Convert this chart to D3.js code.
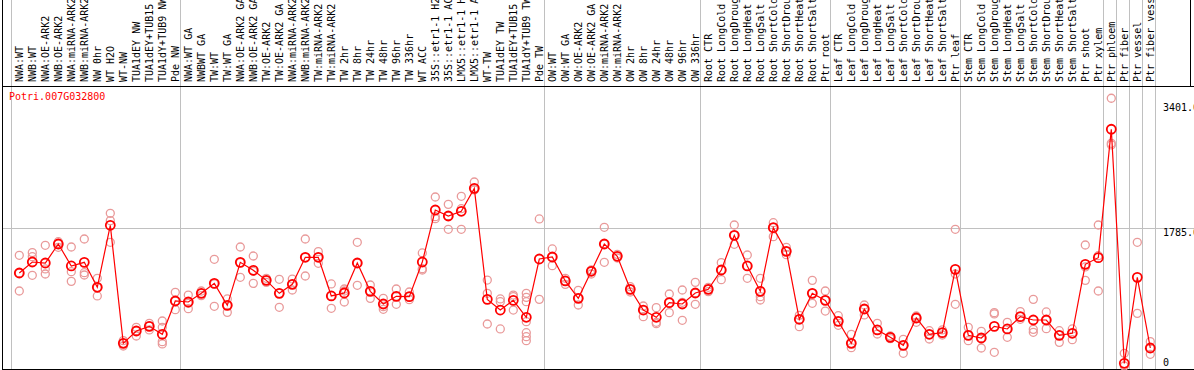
<!DOCTYPE html>
<html>
<head>
<meta charset="utf-8">
<script src="https://cdn.jsdelivr.net/npm/d3@7"></script>
<style>
  body { margin: 0; background: #fff; }
  svg { display: block; }
</style>
</head>
<body>
<div id="chart"></div>
<script>
const W = 1194, H = 370;

const geneName = "Potri.007G032800";

const samples = [
  "NWA:WT", "NWB:WT", "NWA:OE-ARK2", "NWB:OE-ARK2", "NWA:miRNA-ARK2", "NWB:miRNA-ARK2",
  "NW 0hr", "WT H2O", "WT-NW", "TUA1dEY NW", "TUA1dEY+TUB15 NW", "TUA1dY+TUB9 NW", "Pde NW",
  "NWA:WT GA", "NWBWT GA", "TW:WT", "TW:WT GA", "NWA:OE-ARK2 GA", "NWB:OE-ARK2 GA",
  "TW:OE-ARK2", "TW:OE-ARK2 GA", "NWA:miRNA-ARK2", "NWB:miRNA-ARK2", "TW:miRNA-ARK2",
  "TW:miRNA-ARK2", "TW 2hr", "TW 8hr", "TW 24hr", "TW 48hr", "TW 96hr", "TW 336hr",
  "WT ACC", "35S::etr1-1 H2O", "35S::etr1-1 ACC", "LMX5::etr1-1 H2O", "LMX5::etr1-1 ACC",
  "WT-TW", "TUA1dEY TW", "TUA1dEY+TUB15 TW", "TUA1dY+TUB9 TW", "Pde TW",
  "OW:WT", "OW:WT GA", "OW:OE-ARK2", "OW:OE-ARK2 GA", "OW:miRNA-ARK2", "OW:miRNA-ARK2",
  "OW 2hr", "OW 8hr", "OW 24hr", "OW 48hr", "OW 96hr", "OW 336hr",
  "Root CTR", "Root LongCold", "Root LongDrought", "Root LongHeat", "Root LongSalt",
  "Root ShortCold", "Root ShortDrought", "Root ShortHeat", "Root ShortSalt", "Ptr root",
  "Leaf CTR", "Leaf LongCold", "Leaf LongDrought", "Leaf LongHeat", "Leaf LongSalt",
  "Leaf ShortCold", "Leaf ShortDrought", "Leaf ShortHeat", "Leaf ShortSalt", "Ptr leaf",
  "Stem CTR", "Stem LongCold", "Stem LongDrought", "Stem LongHeat", "Stem LongSalt",
  "Stem ShortCold", "Stem ShortDrought", "Stem ShortHeat", "Stem ShortSalt",
  "Ptr shoot", "Ptr xylem", "Ptr phloem", "Ptr fiber", "Ptr vessel", "Ptr fiber vessel"
];

// mean expression per sample
const means = [
  1203, 1345, 1332, 1578, 1294, 1341, 1018, 1820, 293, 453, 513, 410, 841,
  828, 940, 1069, 785, 1341, 1238, 1108, 940, 1056, 1406, 1406, 906, 944,
  1332, 966, 802, 901, 897, 1345, 2018, 1940, 2001, 2298, 862, 724, 849, 630, 1384,
  1410, 1100, 875, 1225, 1578, 1419, 992, 724, 630, 819, 802, 944,
  992, 1242, 1690, 1294, 966, 1789, 1483, 604, 940, 849,
  578, 293, 737, 466, 371, 267, 621, 410, 431, 1250,
  397, 362, 513, 479, 638, 595, 595, 397, 423, 1315, 1401,
  3062, 34, 1147, 233
];

// individual replicates per sample
const replicates = [
  [1432, 1203, 970], [1466, 1414, 1173], [1561, 1255, 1190], [1608, 1587, 1535],
  [1539, 1220, 1095], [1643, 1207, 1177], [1134, 1018, 906], [1975, 1880, 1600],
  [328, 293, 259], [500, 457, 388], [552, 517, 466], [582, 500, 315, 285],
  [953, 841, 729], [918, 811, 742], [970, 940, 910], [1380, 1061, 772],
  [867, 785, 694], [1539, 1337, 1147], [1423, 1225, 1069], [1134, 1108, 1082],
  [1121, 940, 759], [1125, 1056, 983], [1643, 1406, 1164], [1479, 1406, 1328],
  [1061, 906, 746], [996, 970, 828], [1600, 1332, 1044], [1048, 966, 875],
  [875, 768, 733], [996, 901, 798], [957, 897, 858], [1462, 1259, 1242],
  [2186, 1932, 1906], [2091, 1940, 1768], [2195, 2035, 1768], [2380, 2298, 2277],
  [1112, 940, 543], [867, 832, 479], [918, 897, 724], [940, 888, 832, 573, 431, 379, 328],
  [1902, 862], [1514, 1410, 1298], [1134, 1100, 1056], [979, 875, 789],
  [1242, 1225, 1190], [1794, 1578, 1341], [1444, 1419, 1397], [1026, 992, 957],
  [776, 724, 638], [755, 565, 548], [931, 819, 690], [983, 824, 591],
  [1082, 944, 798], [1018, 992, 962], [1337, 1242, 1117], [1824, 1690, 1574],
  [1436, 1294, 1134], [1134, 897, 854], [1854, 1789, 1673], [1535, 1483, 1440],
  [655, 604, 509], [1108, 940, 811], [970, 849, 711], [651, 578, 526],
  [410, 293, 237], [789, 737, 660], [552, 466, 414], [388, 371, 354],
  [345, 267, 164], [647, 621, 565], [457, 410, 349], [466, 431, 401],
  [1768, 1190, 798], [500, 397, 328], [448, 362, 233], [690, 673, 177],
  [565, 479, 371], [703, 638, 604], [862, 474, 436], [699, 595, 483],
  [457, 397, 306], [479, 423, 341], [1565, 1281, 1108], [1824, 1427, 970],
  [3463, 2880, 2859], [164, 0], [1600, 681], [315, 233, 151]
];

// first sample index of each group (grey separators)
const groupStarts = [0, 13, 41, 53, 63, 73, 84, 85, 86, 87];
const yTicks = [0, 1785, 3401];
const yTickLabels = ["0", "1785.0", "3401.0"];
const yMax = 3570;

const headerH = 86;
const plotBottom = 369;

const svg = d3.select("#chart").append("svg")
    .attr("width", W)
    .attr("height", H)
    .style("font-family", "'DejaVu Sans Mono', monospace")
    .style("font-size", "10px");

const idx = d3.range(samples.length);
const x = d3.scaleBand()
    .domain(idx)
    .range([11, 1155])
    .paddingInner(0);
const px = i => x(i) + 8.3;

const y = d3.scaleLinear()
    .domain([0, yMax])
    .range([366, 90]);

// grid
const grid = svg.append("g").attr("stroke", "#c0c0c0").attr("stroke-width", 1);
groupStarts.concat([samples.length]).forEach(i => {
    const gx = Math.round(i < samples.length ? x(i) : x.range()[1]) + 0.5;
    grid.append("line").attr("x1", gx).attr("x2", gx).attr("y1", 0).attr("y2", plotBottom);
});
grid.append("line")
    .attr("x1", 2).attr("x2", W)
    .attr("y1", Math.round(y(1785)) + 0.5).attr("y2", Math.round(y(1785)) + 0.5);

// frame
const frame = svg.append("g").attr("stroke", "#000").attr("stroke-width", 1);
frame.append("line").attr("x1", 2.5).attr("x2", 2.5).attr("y1", 0).attr("y2", H);
frame.append("line").attr("x1", 2).attr("x2", W).attr("y1", headerH + 0.5).attr("y2", headerH + 0.5);
frame.append("line").attr("x1", 2).attr("x2", W).attr("y1", plotBottom + 0.5).attr("y2", plotBottom + 0.5);
frame.append("line").attr("x1", 1190.5).attr("x2", 1190.5).attr("y1", 0).attr("y2", headerH);

// sample labels (rotated)
svg.append("g").selectAll("text")
    .data(idx)
    .join("text")
    .attr("transform", i => `translate(${px(i) + 4},82) rotate(-90)`)
    .attr("fill", "#000")
    .text(i => samples[i]);

// y labels on the right
svg.append("g").selectAll("text")
    .data(yTicks)
    .join("text")
    .attr("x", 1163)
    .attr("y", v => Math.min(y(v) + 8, y(0)))
    .attr("fill", "#000")
    .text((v, i) => yTickLabels[i]);

// gene name
svg.append("text")
    .attr("x", 9)
    .attr("y", 100)
    .attr("fill", "#ff0000")
    .text(geneName);

// replicates
const repData = [];
replicates.forEach((r, i) => r.forEach(v => repData.push({ i, v })));
svg.append("g").selectAll("circle")
    .data(repData)
    .join("circle")
    .attr("cx", d => px(d.i))
    .attr("cy", d => y(d.v))
    .attr("r", 4)
    .attr("fill", "none")
    .attr("stroke", "#e99a9a")
    .attr("stroke-width", 1.3);

// mean line
const line = d3.line()
    .x((d, i) => px(i))
    .y(d => y(d));
svg.append("path")
    .datum(means)
    .attr("d", line)
    .attr("fill", "none")
    .attr("stroke", "#ff0000")
    .attr("stroke-width", 1.2);

// mean markers
svg.append("g").selectAll("circle")
    .data(means)
    .join("circle")
    .attr("cx", (d, i) => px(i))
    .attr("cy", d => y(d))
    .attr("r", 4.5)
    .attr("fill", "none")
    .attr("stroke", "#ff0000")
    .attr("stroke-width", 1.8);
</script>
</body>
</html>
